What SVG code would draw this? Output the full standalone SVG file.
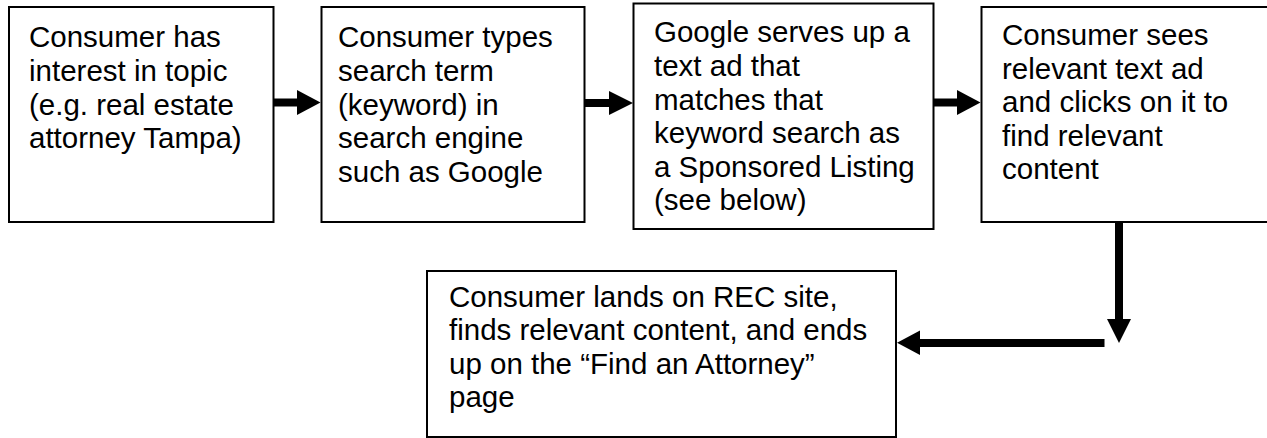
<svg xmlns="http://www.w3.org/2000/svg" width="1267" height="438" viewBox="0 0 1267 438">
  <style>
    .box { fill: #ffffff; stroke: #000000; stroke-width: 2; }
    .label { font-family: "Liberation Sans", Arial, sans-serif; font-size: 29.5px; fill: #000000; }
    .shaft { stroke: #000000; stroke-width: 8; fill: none; }
    .head { fill: #000000; }
  </style>
  <rect width="1267" height="438" fill="#ffffff"/>

  <g id="step-interest">
    <rect class="box" x="9" y="7" width="264.5" height="215"/>
    <text class="label">
      <tspan x="29" y="47">Consumer has</tspan>
      <tspan x="29" y="81">interest in topic</tspan>
      <tspan x="29" y="114.5">(e.g. real estate</tspan>
      <tspan x="29" y="148">attorney Tampa)</tspan>
    </text>
  </g>

  <g id="step-search">
    <rect class="box" x="321.5" y="7" width="263" height="215"/>
    <text class="label">
      <tspan x="338" y="47">Consumer types</tspan>
      <tspan x="338" y="81">search term</tspan>
      <tspan x="338" y="114.5">(keyword) in</tspan>
      <tspan x="338" y="148">search engine</tspan>
      <tspan x="338" y="182">such as Google</tspan>
    </text>
  </g>

  <g id="step-ad">
    <rect class="box" x="633.5" y="3.5" width="300" height="225.5"/>
    <text class="label">
      <tspan x="654" y="42">Google serves up a</tspan>
      <tspan x="654" y="75.5">text ad that</tspan>
      <tspan x="654" y="109.5">matches that</tspan>
      <tspan x="654" y="143">keyword search as</tspan>
      <tspan x="654" y="176.5">a Sponsored Listing</tspan>
      <tspan x="654" y="210">(see below)</tspan>
    </text>
  </g>

  <g id="step-click">
    <rect class="box" x="981.5" y="7" width="300" height="215"/>
    <text class="label">
      <tspan x="1002" y="45">Consumer sees</tspan>
      <tspan x="1002" y="78.5">relevant text ad</tspan>
      <tspan x="1002" y="112">and clicks on it to</tspan>
      <tspan x="1002" y="145.5">find relevant</tspan>
      <tspan x="1002" y="179">content</tspan>
    </text>
  </g>

  <g id="step-landing">
    <rect class="box" x="427" y="271" width="469" height="166"/>
    <text class="label">
      <tspan x="449" y="306.5">Consumer lands on REC site,</tspan>
      <tspan x="449" y="340">finds relevant content, and ends</tspan>
      <tspan x="449" y="373.5">up on the “Find an Attorney”</tspan>
      <tspan x="449" y="407">page</tspan>
    </text>
  </g>

  <g id="connectors">
    <!-- interest -> search -->
    <line class="shaft" x1="274" y1="102.5" x2="298" y2="102.5"/>
    <polygon class="head" points="297,90 320.5,102.5 297,115"/>
    <!-- search -> ad -->
    <line class="shaft" x1="585" y1="103" x2="610" y2="103"/>
    <polygon class="head" points="609,91 633,103 609,115"/>
    <!-- ad -> click -->
    <line class="shaft" x1="934" y1="102.5" x2="958" y2="102.5"/>
    <polygon class="head" points="957,90 980.5,102.5 957,115"/>
    <!-- click -> down -->
    <line class="shaft" x1="1119" y1="222" x2="1119" y2="320"/>
    <polygon class="head" points="1107,319 1131,319 1119,343"/>
    <!-- elbow back to landing page -->
    <line class="shaft" x1="1104.5" y1="343" x2="919" y2="343"/>
    <polygon class="head" points="920,330.5 920,355 897,342.7"/>
  </g>
</svg>
